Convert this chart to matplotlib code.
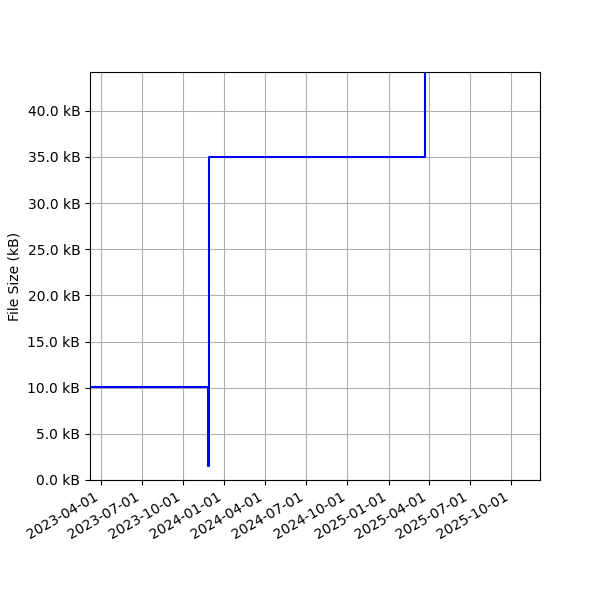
import matplotlib
matplotlib.use("Agg")
import matplotlib.pyplot as plt
import matplotlib.dates as mdates
from matplotlib.ticker import FuncFormatter
import pandas as pd

# File size history (kB)
dates = pd.to_datetime([
    "2023-03-01",
    "2023-11-25",
    "2023-11-27",
    "2025-03-24",
])
sizes_kb = [10.1, 1.5, 35.0, 44.2]


def plot_file_size(dates, sizes_kb):
    fig, ax = plt.subplots(figsize=(6, 6), dpi=100)
    ax.step(dates, sizes_kb, where="post", color="blue", linewidth=1.5)

    ax.set_ylabel("File Size (kB)")
    ax.yaxis.set_major_formatter(FuncFormatter(lambda v, _: f"{v:.1f} kB"))
    ax.set_ylim(0, max(sizes_kb))
    ax.set_xlim(pd.Timestamp("2023-03-08"), pd.Timestamp("2025-12-04"))

    ax.xaxis.set_major_locator(mdates.MonthLocator(bymonth=[1, 4, 7, 10]))
    ax.xaxis.set_major_formatter(mdates.DateFormatter("%Y-%m-%d"))
    ax.grid(True)
    fig.autofmt_xdate()
    fig.subplots_adjust(left=0.15, right=0.9, top=0.88, bottom=0.2)
    fig.savefig("out.png")


if __name__ == "__main__":
    plot_file_size(dates, sizes_kb)
